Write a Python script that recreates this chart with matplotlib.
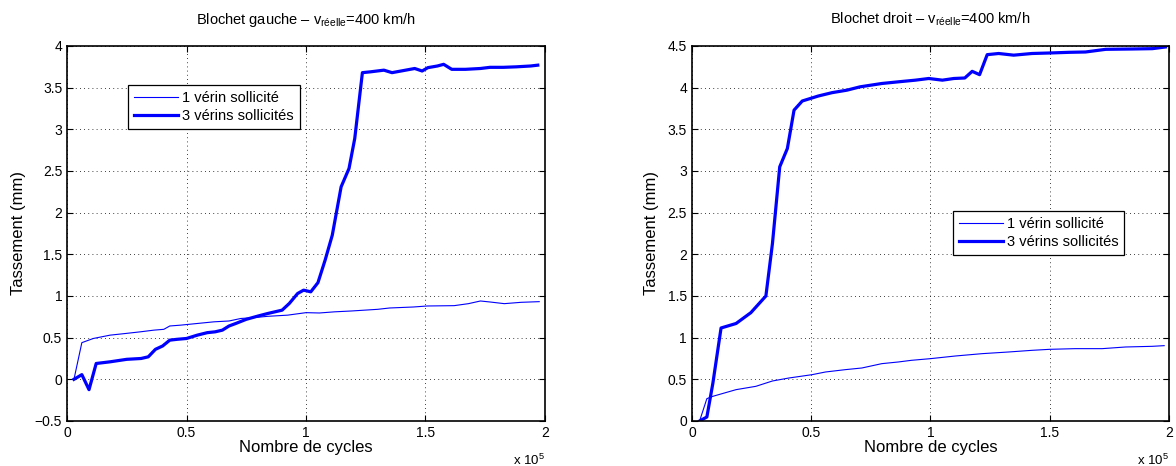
import matplotlib
matplotlib.use("Agg")
import matplotlib.pyplot as plt

plt.rcParams["font.family"] = ["Liberation Sans", "DejaVu Sans"]
plt.rcParams["mathtext.fontset"] = "custom"
plt.rcParams["mathtext.rm"] = "Liberation Sans"
plt.rcParams["mathtext.it"] = "Liberation Sans:italic"

# Blochet gauche (x in units of 1e5 cycles, y in mm)
g1_x = [0.029, 0.062, 0.11, 0.18, 0.245, 0.307, 0.363, 0.405, 0.43, 0.475, 0.545,
        0.615, 0.678, 0.727, 0.78, 0.84, 0.923, 1.0, 1.056, 1.12, 1.19, 1.30, 1.35,
        1.45, 1.507, 1.62, 1.68, 1.73, 1.77, 1.83, 1.90, 1.976]
g1_y = [0.0, 0.44, 0.49, 0.53, 0.55, 0.57, 0.59, 0.60, 0.64, 0.65, 0.67,
        0.69, 0.70, 0.73, 0.74, 0.756, 0.77, 0.80, 0.796, 0.81, 0.82, 0.84, 0.856,
        0.868, 0.88, 0.884, 0.908, 0.94, 0.928, 0.908, 0.924, 0.932]

g3_x = [0.029, 0.062, 0.092, 0.122, 0.18, 0.25, 0.31, 0.34, 0.37, 0.40, 0.43, 0.46,
        0.50, 0.545, 0.587, 0.62, 0.65, 0.678, 0.706, 0.75, 0.80, 0.84, 0.87, 0.90,
        0.93, 0.965, 0.99, 1.02, 1.05, 1.08, 1.11, 1.147, 1.18, 1.204, 1.236, 1.27,
        1.326, 1.36, 1.417, 1.455, 1.486, 1.51, 1.55, 1.576, 1.61, 1.667, 1.73, 1.77,
        1.826, 1.88, 1.94, 1.97]
g3_y = [0.0, 0.056, -0.124, 0.19, 0.21, 0.24, 0.25, 0.27, 0.36, 0.40, 0.47, 0.48,
        0.49, 0.53, 0.56, 0.57, 0.59, 0.64, 0.67, 0.72, 0.76, 0.79, 0.81, 0.83,
        0.91, 1.03, 1.07, 1.05, 1.16, 1.43, 1.73, 2.31, 2.53, 2.89, 3.68, 3.69,
        3.71, 3.68, 3.71, 3.73, 3.70, 3.74, 3.76, 3.78, 3.72, 3.72, 3.73, 3.744,
        3.744, 3.75, 3.76, 3.77]

# Blochet droit
d1_x = [0.032, 0.0625, 0.0875, 0.185, 0.268, 0.3375, 0.407, 0.504, 0.56, 0.643,
        0.7125, 0.796, 0.865, 0.92, 1.0, 1.105, 1.217, 1.328, 1.426, 1.5, 1.607,
        1.72, 1.818, 1.93, 1.98]
d1_y = [0.0, 0.268, 0.296, 0.376, 0.416, 0.48, 0.516, 0.556, 0.588, 0.616,
        0.636, 0.688, 0.708, 0.728, 0.748, 0.78, 0.808, 0.828, 0.848, 0.86, 0.868,
        0.868, 0.888, 0.896, 0.904]

d3_x = [0.032, 0.0625, 0.0875, 0.122, 0.185, 0.247, 0.31, 0.3375, 0.368, 0.40,
        0.428, 0.4625, 0.53, 0.5875, 0.65, 0.705, 0.796, 0.865, 0.937, 0.993, 1.05,
        1.098, 1.144, 1.175, 1.206, 1.238, 1.286, 1.349, 1.426, 1.5, 1.58, 1.65,
        1.735, 1.846, 1.93, 1.985]
d3_y = [0.0, 0.048, 0.45, 1.116, 1.17, 1.30, 1.50, 2.13, 3.05, 3.27,
        3.73, 3.84, 3.90, 3.94, 3.97, 4.01, 4.05, 4.07, 4.09, 4.11, 4.09,
        4.11, 4.116, 4.196, 4.156, 4.396, 4.41, 4.39, 4.41, 4.416, 4.424, 4.428,
        4.46, 4.464, 4.468, 4.488]

labels = ["1 vérin sollicité", "3 vérins sollicités"]
titles = ["Blochet gauche – v$_{\\mathrm{réelle}}$=400 km/h",
          "Blochet droit – v$_{\\mathrm{réelle}}$=400 km/h"]

fig = plt.figure(figsize=(11.76, 4.66), dpi=100)
ax1 = fig.add_axes([0.057, 0.0966, 0.4064, 0.8047])
ax2 = fig.add_axes([0.5884, 0.0966, 0.4056, 0.8047])

panels = [
    (ax1, g1_x, g1_y, g3_x, g3_y, (-0.5, 4), 0.5, (0.113, 0.915)),
    (ax2, d1_x, d1_y, d3_x, d3_y, (0, 4.5), 0.5, (0.532, 0.579)),
]

for i, (ax, x1, y1, x3, y3, ylim, step, leg_pos) in enumerate(panels):
    ax.plot([v * 1e5 for v in x1], y1, color="#0000FF", linewidth=0.8, label=labels[0])
    ax.plot([v * 1e5 for v in x3], y3, color="#0000FF", linewidth=2.3, label=labels[1])
    ax.set_xlim(0, 2e5)
    ax.set_ylim(*ylim)
    ax.set_xticks([0, 0.5e5, 1e5, 1.5e5, 2e5])
    ax.set_xticklabels(["0", "0.5", "1", "1.5", "2"])
    yt = []
    v = ylim[0]
    while v <= ylim[1] + 1e-9:
        yt.append(round(v, 2))
        v += step
    ax.set_yticks(yt)
    ax.set_yticklabels([("%g" % t).replace("-", "\u2212") for t in yt])
    ax.tick_params(direction="in", top=True, right=True, labelsize=10, length=4, width=0.8)
    ax.grid(True, linestyle=(0, (1, 4)), color="black", linewidth=0.6)
    for s in ax.spines.values():
        s.set_linewidth(1.2)
    ax.set_xlabel("Nombre de cycles", fontsize=12, labelpad=0)
    ax.set_ylabel("Tassement (mm)", fontsize=12, labelpad=6)
    ax.set_title(titles[i], fontsize=10.5, pad=16)
    ax.text(1.0, -0.085, "x 10$^5$", transform=ax.transAxes, ha="right", va="top", fontsize=9.5)
    leg = ax.legend(loc="upper left", bbox_to_anchor=leg_pos, fontsize=10.5, fancybox=False,
                    framealpha=1, edgecolor="black", handlelength=3.0, borderpad=0.4,
                    labelspacing=0.3, handletextpad=0.3)
    leg.get_frame().set_linewidth(0.9)

fig.savefig("out.png", dpi=100)
